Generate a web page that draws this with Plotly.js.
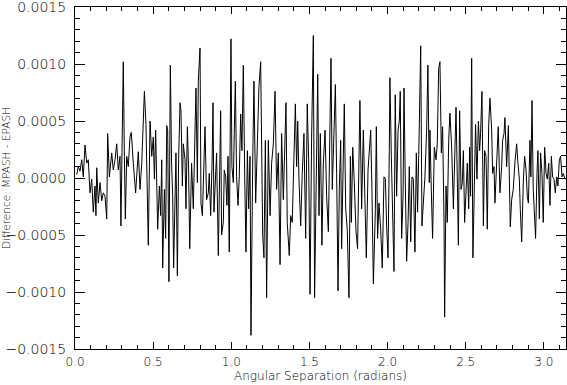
<!DOCTYPE html>
<html>
<head>
<meta charset="utf-8">
<script src="https://cdn.plot.ly/plotly-3.0.1.min.js"></script>
<style>
  html, body { margin: 0; padding: 0; background: #fff; }
  #chart { width: 567px; height: 385px; }
</style>
</head>
<body>
<div id="chart"></div>
<script>
// Angular separation (radians)
const sepRad = [
  0.011,0.021,0.032,0.043,0.053,0.064,0.075,0.085,0.096,0.107,0.117,0.128,0.134,0.139,0.149,0.160,0.171,0.181,0.192,0.203,
  0.209,0.220,0.235,0.245,0.256,0.267,0.277,0.288,0.294,0.305,0.309,0.316,0.322,0.331,0.341,0.352,0.360,
  0.373,0.388,0.405,0.416,0.427,0.437,0.444,0.454,0.463,0.469,0.480,0.491,0.501,0.508,0.516,0.523,0.529,0.540,0.548,0.555,
  0.561,0.572,0.580,0.587,0.593,0.601,0.610,0.618,0.625,0.631,0.640,0.646,0.655,0.663,0.672,0.678,0.687,0.693,0.704,0.710,
  0.719,0.727,0.734,
  0.746,0.757,0.768,0.774,0.783,0.789,0.800,0.806,0.815,0.821,0.832,0.842,0.853,0.859,0.868,0.877,0.883,0.889,0.898,0.906,
  0.917,0.923,0.932,0.938,0.949,0.955,0.964,0.972,0.979,0.987,0.994,0.998,1.004,1.013,1.019,1.026,1.034,1.043,1.051,1.060,
  1.068,1.077,1.086,1.094,1.103,1.111,1.120,1.126,
  1.137,1.145,1.156,1.167,1.177,1.188,1.194,1.201,1.209,1.218,1.226,1.237,1.248,1.258,1.269,1.280,1.290,1.301,1.312,1.322,
  1.333,1.344,1.350,1.358,1.371,1.380,1.390,1.401,1.410,1.418,1.425,1.433,1.444,1.454,1.465,1.476,1.486,1.495,1.504,
  1.514,1.525,1.533,1.542,1.553,1.561,1.570,1.580,1.589,1.600,1.610,1.621,1.631,1.638,1.646,1.657,1.666,1.674,1.683,1.691,
  1.700,1.706,1.715,1.723,1.732,1.742,1.753,1.762,1.768,1.777,1.787,1.798,1.808,1.817,1.823,1.834,1.845,1.855,1.864,1.875,
  1.883,1.892,1.900,1.909,
  1.922,1.928,1.936,1.945,1.956,1.966,1.977,1.986,1.994,2.003,2.011,2.015,2.024,2.032,2.041,2.049,2.058,2.067,2.075,2.081,
  2.090,2.099,2.105,2.113,2.122,2.131,2.139,2.148,2.156,2.165,2.175,2.184,2.192,2.203,2.212,2.220,2.229,2.239,2.250,2.258,
  2.267,
  2.271,2.278,2.288,2.299,2.310,2.318,2.327,2.335,2.344,2.352,2.361,2.365,2.374,2.382,2.391,2.399,2.410,2.421,2.429,2.438,
  2.446,2.453,2.461,2.470,2.478,2.485,2.493,2.502,2.510,2.519,2.525,2.531,2.538,2.546,2.555,2.563,2.572,2.581,2.589,2.595,
  2.604,2.613,2.621,2.630,2.638,2.647,2.655,
  2.666,2.672,2.681,2.687,2.698,2.708,2.719,2.730,2.736,2.745,2.751,2.762,2.773,2.779,2.785,2.794,2.804,2.815,2.826,2.834,
  2.843,2.849,2.858,2.869,2.877,2.886,2.894,2.901,2.911,2.917,2.924,2.932,2.939,2.947,2.956,2.962,2.971,2.979,2.988,2.996,
  3.005,3.014,3.022,3.031,3.039,3.048,3.056,3.065,3.073,3.082,3.090,3.099,3.107,3.116,3.124,3.135,3.141
];

// MPASH - EPASH difference at each separation
const diffVal = [
  0.00003,0.00010,0.00006,0.00016,0.00001,0.00029,0.00013,0.00016,-0.00013,-0.00001,-0.00030,-0.00007,-0.00033,0.00009,-0.00022,-0.00004,-0.00020,-0.00013,-0.00016,-0.00036,
  0.00039,0.00001,0.00022,0.00007,0.00016,0.00030,0.00007,0.00019,-0.00042,0.00062,0.00102,0.00019,-0.00036,0.00019,0.00010,0.00036,0.00040,
  0.00013,-0.00013,0.00023,-0.00010,0.00013,0.00062,0.00076,0.00047,-0.00013,-0.00059,0.00050,0.00019,0.00036,-0.00001,0.00042,-0.00001,-0.00045,-0.00007,-0.00033,0.00016,
  -0.00079,-0.00010,-0.00053,0.00046,0.00042,-0.00091,0.00099,0.00013,-0.00016,-0.00079,0.00004,0.00022,-0.00086,0.00016,0.00066,0.00059,-0.00007,0.00030,0.00016,-0.00027,
  0.00045,0.00007,-0.00062,
  0.00013,-0.00027,0.00039,0.00079,-0.00004,0.00085,0.00114,-0.00022,-0.00033,0.00004,0.00045,-0.00019,-0.00013,0.00004,-0.00033,0.00013,0.00066,-0.00030,-0.00007,0.00022,
  -0.00068,-0.00019,0.00059,-0.00050,-0.00039,0.00007,0.00001,-0.00024,0.00019,-0.00065,0.00093,0.00122,0.00010,-0.00004,0.00039,0.00085,0.00001,-0.00024,0.00001,0.00056,
  0.00024,0.00099,0.00001,-0.00065,0.00024,-0.00027,0.00019,-0.00138,
  0.00013,0.00085,-0.00022,0.00047,0.00080,0.00102,0.00019,-0.00050,-0.00070,0.00033,-0.00105,0.00033,-0.00033,0.00013,0.00030,0.00076,-0.00010,0.00022,-0.00076,0.00039,
  -0.00019,0.00042,0.00066,-0.00039,-0.00068,-0.00033,-0.00039,0.00019,0.00065,0.00010,0.00050,-0.00001,-0.00042,0.00004,0.00039,-0.00053,0.00065,0.00016,-0.00102,
  0.00036,0.00125,-0.00105,0.00001,0.00091,-0.00033,0.00039,-0.00059,0.00013,0.00042,-0.00016,-0.00047,0.00039,0.00105,-0.00010,0.00042,0.00082,0.00004,-0.00099,-0.00010,
  0.00033,-0.00062,0.00013,0.00065,-0.00027,-0.00045,-0.00105,0.00019,-0.00039,0.00027,-0.00004,-0.00047,-0.00062,0.00019,0.00068,-0.00027,0.00042,-0.00019,-0.00070,0.00007,
  0.00024,0.00042,-0.00010,-0.00093,
  -0.00027,0.00045,-0.00053,-0.00022,-0.00045,-0.00079,0.00001,-0.00001,-0.00042,-0.00070,0.00024,0.00088,0.00019,-0.00027,-0.00082,0.00073,-0.00016,0.00042,0.00050,0.00076,
  -0.00053,-0.00016,0.00079,-0.00001,-0.00073,-0.00039,0.00010,-0.00056,0.00001,-0.00001,-0.00065,0.00022,-0.00030,0.00047,0.00116,-0.00042,-0.00022,0.00001,0.00042,0.00099,
  -0.00004,
  0.00042,-0.00001,-0.00053,0.00027,0.00016,0.00030,0.00096,0.00102,0.00022,0.00045,-0.00036,-0.00122,-0.00007,-0.00039,0.00033,0.00057,0.00027,-0.00027,0.00016,0.00062,
  0.00001,-0.00059,0.00059,-0.00010,-0.00004,0.00024,-0.00039,-0.00001,0.00013,-0.00027,0.00027,-0.00016,0.00105,-0.00070,0.00010,0.00047,-0.00001,0.00050,0.00024,0.00039,
  0.00076,-0.00042,0.00024,0.00019,-0.00045,0.00047,0.00070,
  0.00042,0.00004,0.00010,-0.00022,0.00013,0.00045,-0.00013,0.00010,0.00033,0.00039,0.00053,0.00010,0.00046,-0.00004,-0.00043,-0.00019,-0.00010,0.00014,0.00030,0.00013,
  -0.00001,-0.00027,-0.00056,-0.00001,0.00019,0.00007,-0.00016,-0.00022,0.00033,0.00001,0.00068,-0.00010,-0.00036,-0.00053,0.00004,0.00024,-0.00036,0.00022,0.00004,-0.00039,
  0.00027,0.00004,-0.00001,0.00013,-0.00024,0.00019,0.00001,-0.00001,-0.00013,0.00001,-0.00007,0.00016,0.00019,0.00001,0.00004,-0.00001,0.00000
];

const xTitle = 'Angular Separation (radians)';
const yTitle = 'Difference: MPASH - EPASH';

const textFont = { family: 'DejaVu Sans, sans-serif', size: 12, color: '#000', weight: 200 };

// IDL-like box axes: ticks inside, mirrored on every side
const boxAxis = (extra) => Object.assign({
  showline: true,
  linecolor: '#000',
  linewidth: 1,
  mirror: 'allticks',
  ticks: 'inside',
  tickcolor: '#000',
  tickwidth: 1,
  showgrid: false,
  zeroline: false,
  tickfont: textFont,
  ticklabeloverflow: 'allow',
  automargin: false
}, extra);

const trace = {
  x: sepRad,
  y: diffVal,
  type: 'scatter',
  mode: 'lines',
  line: { color: '#000', width: 1 },
  hoverinfo: 'x+y'
};

const layout = {
  width: 567,
  height: 385,
  margin: { l: 75, r: 1, t: 7, b: 36 },
  paper_bgcolor: '#fff',
  plot_bgcolor: '#fff',
  showlegend: false,
  xaxis: boxAxis({
    range: [0, 3.1416],
    tick0: 0,
    dtick: 0.5,
    tickformat: '.1f',
    ticklen: 7,
    ticklabelstandoff: 2,
    minor: { dtick: 0.1, ticks: 'inside', ticklen: 4, tickcolor: '#000', showgrid: false },
    title: { text: xTitle, font: textFont, standoff: 1 }
  }),
  yaxis: boxAxis({
    range: [-0.0015000001, 0.0015000001],
    tick0: 0,
    dtick: 0.0005,
    tickformat: '.4f',
    ticklen: 10,
    ticklabelstandoff: 5,
    tickfont: Object.assign({}, textFont, { size: 14 }),
    minor: { dtick: 0.0001, ticks: 'inside', ticklen: 5, tickcolor: '#000', showgrid: false },
    title: { text: yTitle, font: Object.assign({}, textFont, { size: 10.5 }), standoff: 3 }
  })
};

Plotly.newPlot('chart', [trace], layout, { displayModeBar: false, staticPlot: true });
</script>
</body>
</html>
